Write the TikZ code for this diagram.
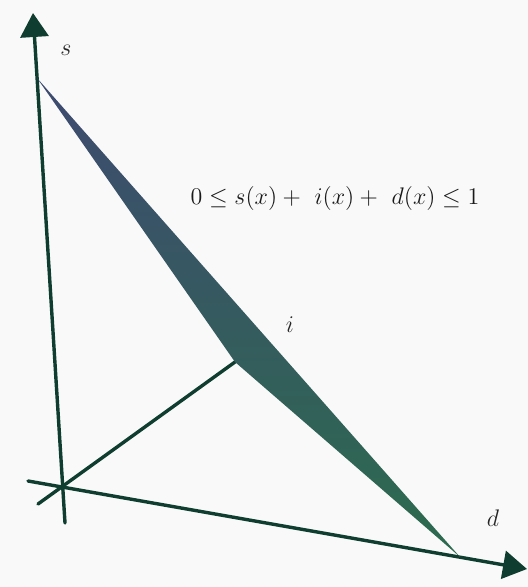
\documentclass[tikz,border=0pt]{standalone}
\usepackage{amsmath,amssymb}
\usetikzlibrary{arrows.meta}
\definecolor{axisC}  {HTML}{0F3D30}
\definecolor{sheetTop}{HTML}{3E4A70}
\definecolor{sheetMid}{HTML}{30605A}
\definecolor{sheetBot}{HTML}{2C6B4E}
\definecolor{paperC} {HTML}{F9F9F9}
\tikzset{
  axisLine/.style={line width=1.7pt,axisC,line cap=round},
  axisArrow/.style={axisLine,-{Triangle[length=12pt,width=14pt]}},
  axisLabel/.style={font=\fontsize{12}{14}\selectfont,text=black!85},
}

\begin{document}
\begin{tikzpicture}[x=0.5pt,y=-0.5pt]

% page and margins
\fill[paperC] (0,0) rectangle (528,587);
\useasboundingbox (0,0) rectangle (528,587);

% corners of the sheet and ends of the axes
\coordinate (O)     at (62,487);
\coordinate (sEnd)  at (65,523);
\coordinate (sTip)  at (33,13);
\coordinate (dEnd)  at (28,481);
\coordinate (dTip)  at (527,569);
\coordinate (iEnd)  at (38,504);
\coordinate (Ps)    at (37,78);
\coordinate (Pi)    at (235,362);
\coordinate (Pd)    at (460,557);

% axes
\draw[axisArrow] (sEnd) -- (sTip);
\draw[axisArrow] (dEnd) -- (dTip);
\draw[axisLine]  (iEnd) -- (Pi);

% simplex sheet
\shade[top color=sheetTop,middle color=sheetMid,bottom color=sheetBot]
  (Ps) -- (Pi) -- (Pd) -- cycle;

% labels
\node[axisLabel] (sLab) at (66,50)  {$s$};
\node[axisLabel] (iLab) at (290,325) {$i$};
\node[axisLabel] (dLab) at (493,518) {$d$};
\node[font=\fontsize{13}{15}\selectfont,text=black!90] (cond) at (335,199)
  {$0\le s(x)+\ i(x)+\ d(x)\le 1$};

\end{tikzpicture}
\end{document}
